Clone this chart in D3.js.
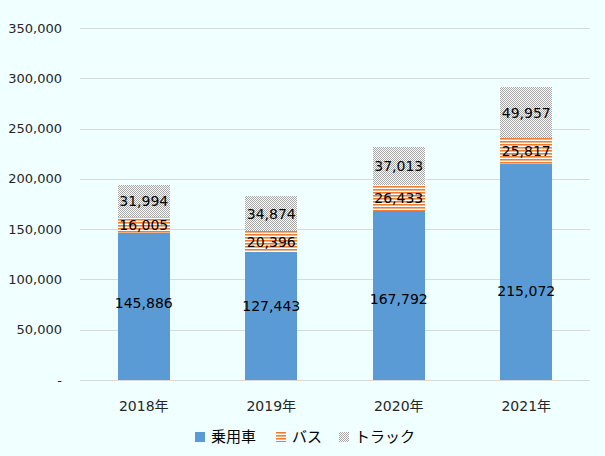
<!DOCTYPE html>
<html><head><meta charset="utf-8">
<script src="https://cdn.jsdelivr.net/npm/d3@7"></script>
<style>
html,body{margin:0;padding:0;background:#F0FFFF;}
svg{display:block;font-family:"DejaVu Sans","Noto Sans CJK JP",sans-serif;}
</style></head>
<body>
<svg id="chart" width="605" height="456"></svg>
<script>
const categories = ["2018年","2019年","2020年","2021年"];
const seriesNames = ["乗用車","バス","トラック"];
const passenger = [145886,127443,167792,215072];
const bus = [16005,20396,26433,25817];
const truck = [31994,34874,37013,49957];
const yTicks = [0,50000,100000,150000,200000,250000,300000,350000];

const svg = d3.select("#chart");
const W = 605, H = 456;
svg.append("rect").attr("width",W).attr("height",H).attr("fill","#F0FFFF");

const defs = svg.append("defs");
const pb = defs.append("pattern").attr("id","pBus").attr("patternUnits","userSpaceOnUse").attr("width",4).attr("height",3);
pb.append("rect").attr("width",4).attr("height",3).attr("fill","#FFFFFF");
pb.append("rect").attr("width",4).attr("height",1).attr("fill","#ED7D31").attr("shape-rendering","crispEdges");
pb.append("rect").attr("y",1).attr("width",4).attr("height",1).attr("fill","#F4B183").attr("shape-rendering","crispEdges");
const pt = defs.append("pattern").attr("id","pTruck").attr("patternUnits","userSpaceOnUse").attr("width",2).attr("height",2);
pt.append("rect").attr("width",2).attr("height",2).attr("fill","#FFFFFF");
pt.append("rect").attr("width",1).attr("height",1).attr("fill","#A5A5A5");
pt.append("rect").attr("x",1).attr("y",1).attr("width",1).attr("height",1).attr("fill","#A5A5A5");

const pLeft = 80, pRight = 590, pTop = 28, pBottom = 380;
const x = d3.scaleBand().domain(categories).range([pLeft,pRight]).paddingInner(0.595).paddingOuter(0.2975);
const y = d3.scaleLinear().domain([0,350000]).range([pBottom,pTop]);

// gridlines
svg.append("g").selectAll("line").data(yTicks).join("line")
  .attr("x1",pLeft).attr("x2",pRight)
  .attr("y1",d=>Math.round(y(d))+0.5).attr("y2",d=>Math.round(y(d))+0.5)
  .attr("stroke","#D9D9D9").attr("stroke-width",1);

// y labels
const fmt = d3.format(",");
svg.append("g").selectAll("text").data(yTicks).join("text")
  .attr("x",62).attr("y",d=>y(d)).attr("dy","0.35em")
  .attr("text-anchor","end").attr("font-size",13).attr("fill","#262626")
  .text(d=> d===0 ? "-" : fmt(d));

// stack
const rows = categories.map((c,i)=>({cat:c, p:passenger[i], b:bus[i], t:truck[i]}));
const stack = d3.stack().keys(["p","b","t"])(rows);
const fills = {p:"#5B9BD5", b:"url(#pBus)", t:"url(#pTruck)"};

const g = svg.append("g");
stack.forEach(layer=>{
  g.selectAll(null).data(layer).join("rect")
    .attr("x",d=>x(d.data.cat)).attr("width",x.bandwidth())
    .attr("y",d=>y(d[1])).attr("height",d=>y(d[0])-y(d[1]))
    .attr("fill",fills[layer.key]).attr("shape-rendering","crispEdges");
});
function labelY(layerKey, d){
  const y0 = y(d[0]), y1 = y(d[1]);
  if(layerKey === "p"){
    // bottom segment labels sit lower than the middle, as in the source
    const h = y0 - y1;
    return y0 - (52 + 0.17*h);
  }
  return (y0 + y1)/2;
}
stack.forEach(layer=>{
  g.selectAll(null).data(layer).join("text")
    .attr("x",d=>x(d.data.cat)+x.bandwidth()/2)
    .attr("y",d=>labelY(layer.key,d)).attr("dy","0.36em")
    .attr("text-anchor","middle").attr("font-size",14).attr("fill","#000")
    .text(d=>fmt(d[1]-d[0]));
});

// x labels
svg.append("g").selectAll("text").data(categories).join("text")
  .attr("x",d=>x(d)+x.bandwidth()/2).attr("y",406).attr("dy","0.35em")
  .attr("text-anchor","middle").attr("font-size",14).attr("fill","#262626")
  .text(d=>d);

// legend
const legendItems = [
  {name:seriesNames[0], fill:"#5B9BD5", x:195},
  {name:seriesNames[1], fill:"url(#pBus)", x:276},
  {name:seriesNames[2], fill:"url(#pTruck)", x:339}
];
const lg = svg.append("g");
legendItems.forEach(it=>{
  lg.append("rect").attr("x",it.x).attr("y",432).attr("width",10).attr("height",10)
    .attr("fill",it.fill).attr("shape-rendering","crispEdges");
  lg.append("text").attr("x",it.x+16).attr("y",437).attr("dy","0.35em")
    .attr("font-size",15).attr("fill","#000").text(it.name);
});
</script>
</body></html>
